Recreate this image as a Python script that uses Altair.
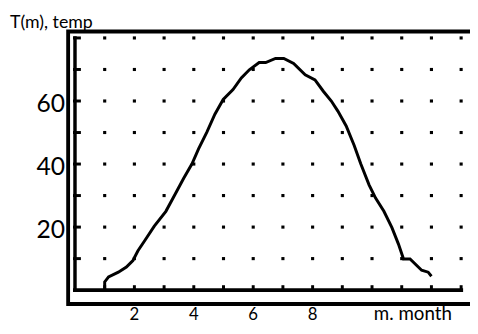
import altair as alt
import pandas as pd

# curve data
months = [1.0, 1.0, 1.13, 1.46, 1.73, 1.95, 2.12, 2.34, 2.67, 3.06, 3.33, 3.66, 3.94,
          4.16, 4.44, 4.71, 4.99, 5.32, 5.60, 5.87, 6.20, 6.42, 6.75, 7.03, 7.36, 7.75,
          8.08, 8.36, 8.63, 8.85, 9.13, 9.40, 9.62, 9.90, 10.12, 10.40, 10.67, 10.89,
          11.06, 11.28, 11.67, 11.89, 12.0]
temps = [0, 2.6, 4.2, 5.7, 7.3, 9.4, 12.5, 15.6, 20.3, 25.0, 29.7, 35.5, 40.1,
         44.8, 50.1, 55.8, 60.5, 63.6, 67.3, 69.9, 72.2, 72.2, 73.5, 73.5, 71.9, 68.3,
         66.7, 63.1, 60.0, 56.8, 52.1, 45.9, 40.1, 33.4, 29.2, 25.0, 19.8, 14.6,
         9.9, 9.9, 6.3, 5.7, 4.4]

grid_months = list(range(1, 14))
grid_temps = [10, 20, 30, 40, 50, 60, 70, 80]
x_labels = [2, 4, 6, 8]
y_labels = [20, 40, 60]
x_title = "m. month"
y_title = "T(m), temp"

FONT = "Lato"

curve = pd.DataFrame({"m": months, "T": temps})
dots = pd.DataFrame([{"m": m, "T": t} for m in grid_months for t in grid_temps])
xticks = pd.DataFrame({"m": grid_months, "T": [0] * len(grid_months)})
yticks = pd.DataFrame({"m": [0] * len(grid_temps), "T": grid_temps})
xaxis_line = pd.DataFrame({"m": [0], "m2": [max(grid_months)], "T": [0]})
yaxis_line = pd.DataFrame({"m": [0], "T": [0], "T2": [max(grid_temps)]})
xlab = pd.DataFrame({"m": x_labels, "txt": [str(v) for v in x_labels]})
ylab = pd.DataFrame({"T": y_labels, "txt": [str(v) for v in y_labels]})
one = pd.DataFrame({"a": [0]})

xs = alt.Scale(domain=[-0.2985, 13.2985], nice=False, zero=False)
ys = alt.Scale(domain=[-5.9375, 83.4375], nice=False, zero=False)


def X(f):
    return alt.X(f, type="quantitative", scale=xs, axis=None)


def Y(f):
    return alt.Y(f, type="quantitative", scale=ys, axis=None)


frame = alt.Chart(one).mark_rect(
    fillOpacity=0, stroke="black", strokeWidth=4, clip=True
).encode(x=alt.value(2), x2=alt.value(440), y=alt.value(4.5), y2=alt.value(281))

dot_layer = alt.Chart(dots).mark_square(size=10, color="black", opacity=1).encode(
    x=X("m"), y=Y("T"))

xaxis = alt.Chart(xaxis_line).mark_rule(color="black", strokeWidth=4, strokeCap="square").encode(
    x=X("m"), x2="m2", y=Y("T"))
yaxis = alt.Chart(yaxis_line).mark_rule(color="black", strokeWidth=3.5, strokeCap="square").encode(
    x=X("m"), y=Y("T"), y2="T2")

xtick_layer = alt.Chart(xticks).mark_tick(
    orient="vertical", color="black", thickness=3, size=6, yOffset=-2, opacity=1
).encode(x=X("m"), y=Y("T"))
ytick_layer = alt.Chart(yticks).mark_tick(
    orient="horizontal", color="black", thickness=3, size=8, xOffset=2, opacity=1
).encode(x=X("m"), y=Y("T"))

line = alt.Chart(curve).mark_line(color="black", strokeWidth=3, strokeJoin="miter").encode(
    x=X("m"), y=Y("T"))

ylabels = alt.Chart(ylab).mark_text(
    font=FONT, fontSize=25, color="black", align="right", baseline="middle", dy=3
).encode(x=alt.value(-1), y=Y("T"), text="txt:N")

xlabels = alt.Chart(xlab).mark_text(
    font=FONT, fontSize=17, color="black", align="center", baseline="alphabetic"
).encode(x=X("m"), y=alt.value(297), text="txt:N")

xtitle = alt.Chart(one).mark_text(
    text=x_title, font=FONT, fontSize=19, color="black", align="center", baseline="alphabetic"
).encode(x=alt.value(352), y=alt.value(297))

ytitle = alt.Chart(one).mark_text(
    text=y_title, font=FONT, fontSize=18, color="black", align="left", baseline="alphabetic"
).encode(x=alt.value(-57), y=alt.value(1))

chart = alt.layer(
    frame, dot_layer, xaxis, yaxis, xtick_layer, ytick_layer, line,
    ylabels, xlabels, xtitle, ytitle
).properties(
    width=410, height=286,
    padding={"left": 59, "top": 17, "right": 0, "bottom": 15},
    autosize=alt.AutoSizeParams(type="none"),
    background="white",
).configure_view(stroke=None)

chart.save("out.html", embed_options={"renderer": "svg", "actions": False})
